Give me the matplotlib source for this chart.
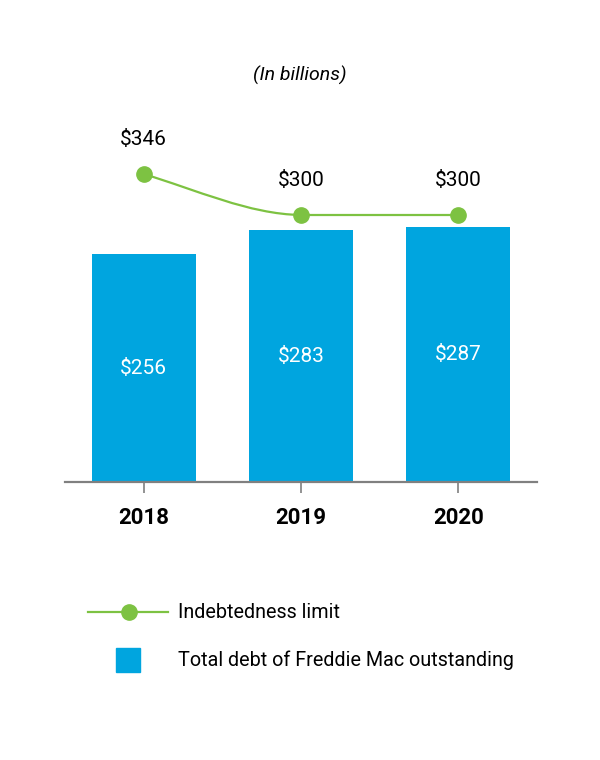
import matplotlib
matplotlib.use("Agg")
import matplotlib.pyplot as plt
from matplotlib.lines import Line2D
from matplotlib.patches import Rectangle, PathPatch
from matplotlib.path import Path

plt.rcParams["font.family"] = ["Liberation Sans Narrow", "Roboto", "DejaVu Sans"]

years = ["2018", "2019", "2020"]
debt = [256, 283, 287]
limit = [346, 300, 300]

BLUE = "#00a5df"
GREEN = "#7dc242"
GRAY = "#808080"

fig = plt.figure(figsize=(6, 7.6), dpi=100)
ax = fig.add_axes([0.1083, 0.3658, 0.7867, 0.4684])
x = list(range(len(years)))

ax.bar(x, debt, width=0.66, color=BLUE, zorder=2)
for xi, v in zip(x, debt):
    ax.text(xi, v / 2, f"${v}", color="white", ha="center", va="center", fontsize=15)

# smooth line for the indebtedness limit (flattens into each point)
verts = [(x[0], limit[0])]
codes = [Path.MOVETO]
for i in range(1, len(x)):
    y0, y1 = limit[i - 1], limit[i]
    d = y0 - y1
    verts += [(x[i - 1] + 1 / 3, y0 - 0.38 * d), (x[i] - 1 / 3, y1 + 0.02 * d), (x[i], y1)]
    codes += [Path.CURVE4] * 3
ax.add_patch(PathPatch(Path(verts, codes), fill=False, edgecolor=GREEN, lw=1.6, zorder=3))
ax.plot(x, limit, ls="none", marker="o", ms=11, color=GREEN, zorder=4)
for xi, v in zip(x, limit):
    ax.annotate(f"${v}", (xi, v), xytext=(0, 25), textcoords="offset points",
                ha="center", va="center", fontsize=15)

ax.set_xlim(-0.5, 2.5)
ax.set_ylim(0, 400)
for s in ["top", "right", "left"]:
    ax.spines[s].set_visible(False)
ax.spines["bottom"].set_color(GRAY)
ax.spines["bottom"].set_linewidth(1.6)
ax.set_yticks([])
ax.set_xticks(x)
ax.set_xticklabels(years, fontsize=16, fontweight="bold")
ax.tick_params(axis="x", length=8, width=1.2, color=GRAY, pad=10)

fig.text(0.5, 1 - 75 / 760, "(In billions)", ha="center", va="center",
         fontsize=14, style="italic")

# legend
ly1 = 1 - 612 / 760
fig.add_artist(Line2D([88 / 600, 168 / 600], [ly1, ly1], color=GREEN, lw=1.6))
fig.add_artist(Line2D([129 / 600], [ly1], marker="o", ms=11, color=GREEN))
fig.text(178 / 600, ly1, "Indebtedness limit", va="center", fontsize=14.2)
ly2 = 1 - 660 / 760
fig.add_artist(Rectangle((116 / 600, 1 - 672 / 760), 24 / 600, 24 / 760,
                         color=BLUE, transform=fig.transFigure))
fig.text(178 / 600, ly2, "Total debt of Freddie Mac outstanding", va="center", fontsize=14.2)

fig.savefig("out.png", dpi=100)
